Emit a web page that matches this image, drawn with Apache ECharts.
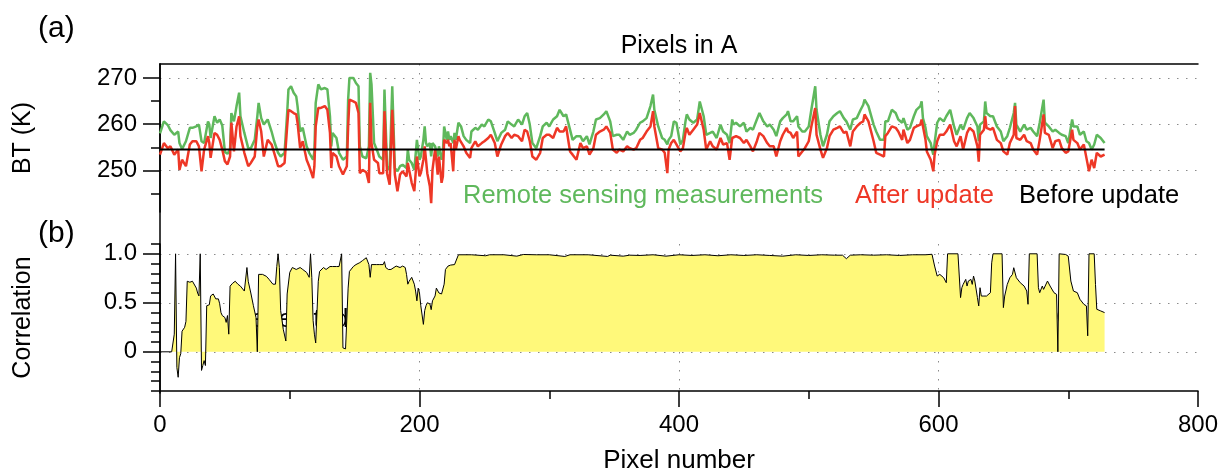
<!DOCTYPE html>
<html>
<head>
<meta charset="utf-8">
<script src="https://cdn.jsdelivr.net/npm/echarts@6/dist/echarts.min.js"></script>
<style>
  html, body { margin: 0; padding: 0; background: #ffffff; }
  #chart { width: 1229px; height: 475px; }
</style>
</head>
<body>
<div id="chart"></div>
<script>
// ---- (a) brightness temperature along the transect, K ----
const pixelA = [0,3,6,8,11,14,15,17,20,23,25,28,30,32,34,37,38,39,42,44,46,48,50,52,54,55,57,59,61,62,65,68,70,73,75,76,78,80,83,86,88,91,93,96,98,99,101,103,105,106,108,110,113,115,118,119,120,122,124,127,129,131,132,133,136,138,141,144,145,146,149,151,153,154,156,159,161,162,163,165,168,169,172,173,175,177,179,181,183,185,187,190,191,192,194,196,198,200,201,203,204,205,206,208,209,210,212,213,214,215,217,218,219,221,222,223,224,226,227,228,230,231,232,234,236,239,240,243,245,248,250,253,255,258,260,263,266,268,271,273,276,279,281,283,285,287,290,293,295,298,300,303,306,308,311,313,316,318,321,324,326,329,331,334,336,339,342,344,347,349,352,354,357,360,362,365,367,370,372,375,378,380,381,384,387,389,391,392,394,396,398,401,403,405,406,408,411,414,416,419,421,424,426,429,432,434,437,439,441,442,444,447,450,452,455,457,460,462,465,468,470,473,475,478,480,483,484,486,488,491,492,495,497,500,502,505,506,509,511,514,516,519,522,524,527,529,532,534,537,540,542,543,546,550,552,555,558,559,561,564,567,569,572,573,576,578,581,583,586,587,588,590,591,594,595,596,597,599,601,604,606,609,612,614,617,619,622,624,627,630,631,632,635,636,637,640,642,645,648,650,653,655,658,659,660,663,666,668,671,673,676,678,681,682,685,688,690,693,695,698,700,703,704,707,709,712,714,716,718,720,722,725,728];

// remote sensing measurements
const measured = [258.0,260.6,259.8,258.7,257.7,258.4,255.9,254.6,256.3,259.2,259.2,259.5,259.9,256.3,255.9,260.6,259.9,257.0,261.7,260.3,261.0,259.7,254.0,253.6,254.5,262.4,260.6,263.9,266.8,261.7,258.1,254.8,254.8,256.6,261.7,264.6,261.3,259.9,261.0,258.4,256.3,253.8,253.0,253.8,262.4,267.5,268.2,266.8,266.0,263.9,258.4,259.2,255.2,253.8,252.3,254.1,264.6,268.6,267.5,267.8,267.5,261.7,255.2,258.1,257.0,253.8,252.3,253.0,265.3,270.0,270.0,268.9,268.2,255.2,253.0,252.6,255.2,271.1,268.6,255.9,253.8,253.0,252.3,267.5,250.9,250.1,268.2,250.5,249.8,250.9,251.2,250.5,254.5,252.3,251.6,250.1,256.6,252.3,253.0,256.6,259.5,255.9,255.2,255.9,253.0,255.9,255.2,255.2,253.0,255.2,252.3,253.8,259.5,256.6,258.4,256.6,257.4,255.9,258.1,256.6,260.3,260.6,259.5,257.4,256.6,255.9,258.4,259.2,258.8,259.9,259.5,261.0,260.6,258.1,256.3,258.1,258.8,260.6,259.9,259.5,261.0,259.9,261.7,262.4,259.9,255.9,254.8,257.4,259.5,260.3,259.5,261.0,261.7,263.1,261.7,262.1,258.8,256.6,257.4,257.4,256.3,257.4,255.6,258.4,261.0,261.3,262.1,262.8,260.6,257.4,257.7,257.7,256.6,258.4,257.7,258.1,258.8,260.3,260.6,261.3,263.9,266.4,263.1,259.5,257.0,256.6,255.6,256.6,257.4,260.6,260.3,255.6,256.6,260.6,262.1,261.0,260.3,261.0,264.9,261.7,257.7,258.1,258.4,257.0,259.9,258.4,257.7,255.9,261.0,259.9,260.3,259.5,260.3,258.4,259.2,258.8,261.0,262.4,260.6,259.5,259.9,258.8,257.4,260.6,261.3,262.1,262.8,260.6,260.6,261.7,259.5,258.4,258.4,259.5,263.1,268.2,263.1,257.7,255.2,257.7,260.6,261.7,262.4,262.8,261.3,260.6,258.8,261.0,261.3,263.1,264.2,265.3,263.9,259.9,258.4,256.6,256.6,260.6,260.6,263.1,262.4,261.0,260.3,261.3,258.8,259.2,261.7,263.1,263.9,264.9,261.3,259.2,257.4,255.9,254.5,253.4,255.9,260.3,261.3,260.6,261.7,263.1,259.5,257.7,259.9,258.8,261.3,262.4,261.3,259.5,256.3,259.9,260.6,264.9,262.4,261.7,261.7,259.5,258.4,256.3,257.4,259.2,262.4,264.6,259.9,258.4,259.9,258.8,259.2,258.4,257.4,260.3,265.3,260.3,259.5,258.4,258.8,258.1,257.7,257.4,255.9,261.0,259.5,259.5,257.7,258.4,256.3,255.9,254.5,255.6,257.7,257.0,255.9];

// after update
const updated = [253.4,255.9,254.8,255.2,253.4,254.5,250.1,252.3,250.9,255.6,256.3,256.3,255.2,249.8,254.5,257.4,255.9,252.7,258.1,257.7,256.6,254.5,252.0,251.3,253.0,260.3,254.1,259.5,261.7,257.4,253.8,250.9,251.6,253.0,259.5,261.0,258.4,253.0,256.6,255.6,253.8,250.9,250.9,251.6,259.5,263.1,262.8,262.4,262.1,260.3,254.8,256.3,252.3,250.9,248.3,250.9,259.5,263.5,263.5,263.9,263.1,258.1,250.5,253.8,253.0,250.9,249.1,250.9,259.5,265.3,264.9,264.6,262.4,249.4,250.1,249.6,247.3,264.6,255.9,252.3,251.6,249.4,249.4,262.8,249.4,246.9,263.1,249.1,245.5,249.1,249.8,248.7,251.6,250.1,247.3,245.5,253.0,248.7,249.4,252.3,255.2,252.3,249.4,246.5,242.9,250.1,254.5,252.3,249.1,253.0,247.3,248.7,256.6,255.9,256.6,255.2,255.9,249.8,256.6,254.5,257.4,256.6,257.0,255.2,253.8,252.7,254.8,256.3,255.2,255.9,256.3,257.0,257.7,255.9,253.0,255.6,257.4,258.1,257.0,257.7,257.4,256.3,258.8,258.4,256.3,253.0,252.3,253.8,257.0,257.7,257.7,257.0,259.2,258.4,258.4,259.5,254.1,253.4,252.3,255.9,254.8,255.2,253.4,254.8,257.7,258.4,258.8,259.5,258.1,254.5,253.8,254.5,254.1,255.2,254.8,254.5,254.8,256.6,257.0,258.4,259.5,262.8,259.5,254.8,254.5,253.8,249.4,254.5,255.9,256.6,255.6,254.1,254.8,258.1,259.2,257.7,258.8,259.9,262.4,258.8,254.5,256.3,255.2,254.5,257.0,255.6,255.9,252.3,257.0,256.6,257.4,257.0,255.9,256.6,255.2,254.1,256.3,258.1,257.4,255.9,255.2,255.2,253.0,256.3,257.7,259.2,258.4,258.1,257.0,258.4,253.0,254.1,254.8,256.3,259.5,263.5,257.7,254.5,252.7,254.8,257.4,258.8,259.2,259.5,258.1,258.4,255.2,258.4,259.5,260.3,260.6,262.1,260.6,256.3,253.8,253.4,253.0,257.4,258.1,259.5,259.2,258.4,256.6,258.8,255.9,256.6,259.2,259.5,259.9,261.0,260.6,256.6,254.1,252.3,251.9,249.8,253.4,256.3,257.7,257.7,258.4,259.9,256.3,255.2,257.4,254.5,258.1,259.2,258.4,255.2,251.9,257.7,258.8,261.7,259.2,258.8,259.2,256.6,255.9,254.1,253.4,255.9,257.7,263.9,257.0,256.6,257.7,256.3,255.9,254.5,253.4,256.6,262.1,258.1,257.7,254.8,256.3,256.6,254.8,253.8,254.1,258.8,256.6,255.9,254.5,255.6,252.7,249.8,252.3,250.5,253.8,253.0,253.4];

// before update (constant first guess)
const beforePixels = [0, 728];
const beforeValues = [254.5, 254.5];

// ---- (b) correlation ----
const pixelB = [0,9,11,12,13,14,15,16,17,19,20,21,23,25,26,28,29,30,31,32,33,34,35,36,38,39,41,42,43,45,46,47,48,50,51,52,53,54,56,58,60,62,65,66,67,68,70,72,74,75,76,77,79,82,84,87,89,90,91,92,93,95,97,98,100,102,105,108,110,113,115,116,117,118,119,120,122,123,126,128,129,131,133,136,138,139,140,141,143,145,146,149,151,154,156,159,160,161,162,163,167,169,172,173,174,176,178,182,185,187,189,190,191,192,194,195,196,197,198,199,200,201,203,204,205,206,208,209,210,212,213,214,215,217,218,219,220,222,224,227,228,230,240,251,254,265,275,280,290,300,312,316,330,345,347,357,362,370,380,390,400,410,420,430,440,450,460,470,480,490,500,510,520,526,529,532,540,550,560,570,580,590,595,596,597,599,601,604,606,607,615,617,618,619,621,622,623,625,626,627,628,630,631,632,633,635,637,640,641,642,649,650,651,653,655,657,658,659,660,663,666,668,669,670,676,677,678,680,681,682,684,686,689,691,692,693,698,700,702,704,705,707,709,712,714,715,716,720,721,722,725,726,728];
const correlation = [0,0,0.18,1.0,-0.16,-0.26,-0.06,-0.02,0.21,0.25,0.31,0.72,0.71,0.72,0.71,0.65,0.60,0.57,1.0,-0.19,-0.14,-0.09,-0.14,0.47,0.48,0.57,0.59,0.57,0.54,0.54,0.49,0.40,0.37,0.35,0.30,0.37,0.18,0.67,0.70,0.72,0.69,0.67,0.62,0.62,0.86,0.72,0.60,0.47,0.35,0.0,0.79,0.77,0.79,0.77,0.74,0.69,0.69,0.87,1.0,0.86,0.42,0.23,0.11,0.59,0.81,0.86,0.84,0.86,0.84,0.81,0.76,1.0,0.76,0.32,0.18,0.09,0.72,0.82,0.86,0.84,0.82,0.87,0.87,0.87,0.87,0.89,1.0,0.04,0.03,0.65,0.82,0.87,0.89,0.91,0.93,0.96,0.94,0.89,0.76,0.89,0.89,0.89,0.89,0.92,0.86,0.84,0.84,0.875,0.86,0.875,0.86,0.79,0.69,0.72,0.76,0.74,0.69,0.62,0.52,0.65,0.60,0.47,0.28,0.42,0.47,0.50,0.49,0.43,0.52,0.57,0.65,0.64,0.60,0.59,0.57,0.69,0.84,0.875,0.885,0.89,0.91,0.99,0.99,0.98,0.99,0.99,0.976,0.993,0.99,0.99,0.973,0.99,0.99,0.973,0.986,0.976,0.986,0.983,0.99,0.976,0.99,0.983,0.99,0.98,0.99,0.983,0.99,0.983,0.976,0.99,0.983,0.99,0.986,0.986,0.95,0.986,0.99,0.986,0.99,0.983,0.99,0.99,0.995,1.0,0.875,0.773,0.79,0.756,0.705,1.0,1.0,0.553,0.654,0.688,0.739,0.671,0.722,0.739,0.688,0.773,0.722,0.553,0.468,0.654,0.569,0.569,0.569,0.603,0.908,1.0,1.0,0.451,0.569,0.688,0.756,0.79,0.858,0.875,0.756,0.705,0.671,0.620,0.485,1.0,1.0,0.654,0.603,0.671,0.637,0.637,0.722,0.671,0.603,0.586,0.0,1.0,0.993,0.976,0.722,0.620,0.603,0.603,0.536,0.485,0.468,0.163,1.0,1.0,0.688,0.434,0.417,0.40,0.40];

// ---- axis ticks ----
const xTickStep = 200;
const btMajor = [250, 260, 270];
const btMinor = [245, 255, 265];
const corrMajor = [0, 0.5, 1.0];
const corrMinor = [-0.4, -0.3, -0.2, -0.1, 0.1, 0.2, 0.3, 0.4, 0.6, 0.7, 0.8, 0.9, 1.1];

const FONT = "'Liberation Sans', Arial, Helvetica, sans-serif";
const GREEN = '#5fb85c';
const RED = '#ee3726';
const YELLOW = '#fff97a';
const dotted = { color: '#8a8a8a', width: 1, type: [1.5, 7.5] };

const pairs = (xs, ys) => xs.map((x, i) => [x, ys[i]]);

const chart = echarts.init(document.getElementById('chart'), null, { renderer: 'canvas' });

const tickLabel = { color: '#000', fontFamily: FONT, fontSize: 24, margin: 23 };
const titleStyle = { color: '#000', fontFamily: FONT, fontSize: 25 };

chart.setOption({
  animation: false,
  backgroundColor: '#ffffff',
  grid: [
    { left: 160, right: 31, top: 64, height: 148 },
    { left: 160, right: 31, top: 244, height: 149 },
    { left: 160, right: 31, top: 64, height: 329 }
  ],
  xAxis: [
    {
      gridIndex: 0, type: 'value', min: 0, max: 800, interval: xTickStep, position: 'top',
      axisLine: { show: true, lineStyle: { color: '#000', width: 1.5 } },
      axisTick: { show: false }, axisLabel: { show: false },
      splitLine: { show: true, showMinLine: false, showMaxLine: false, lineStyle: dotted }
    },
    {
      gridIndex: 1, type: 'value', min: 0, max: 800, interval: xTickStep, position: 'bottom',
      axisLine: { show: true, onZero: false, lineStyle: { color: '#000', width: 1.5 } },
      axisTick: { show: true, length: 16, lineStyle: { color: '#000', width: 1.5 } },
      minorTick: { show: true, splitNumber: 2, length: 8, lineStyle: { color: '#000', width: 1.5 } },
      axisLabel: Object.assign({}, tickLabel, { margin: 22 }),
      splitLine: { show: true, showMinLine: false, showMaxLine: false, lineStyle: dotted },
      name: 'Pixel number', nameLocation: 'middle', nameGap: 57,
      nameTextStyle: Object.assign({}, titleStyle, { fontSize: 26 })
    },
    { gridIndex: 2, type: 'value', min: 0, max: 800, show: false }
  ],
  yAxis: [
    {
      gridIndex: 0, type: 'value', min: 241, max: 273, position: 'left',
      axisLine: { show: true, onZero: false, lineStyle: { color: '#000', width: 1.5 } },
      axisTick: { show: true, customValues: btMajor, length: 17, lineStyle: { color: '#000', width: 1.5 } },
      axisLabel: Object.assign({ customValues: btMajor }, tickLabel),
      splitLine: { show: true, lineStyle: dotted },
      name: 'BT (K)', nameLocation: 'middle', nameGap: 124, nameRotate: 90,
      nameTextStyle: titleStyle
    },
    {
      gridIndex: 0, type: 'value', min: 241, max: 273, position: 'left',
      axisLine: { show: false },
      axisTick: { show: true, customValues: btMinor, length: 9, lineStyle: { color: '#000', width: 1.5 } },
      axisLabel: { show: false }, splitLine: { show: false }
    },
    {
      gridIndex: 1, type: 'value', min: -0.4, max: 1.1, position: 'left',
      axisLine: { show: true, onZero: false, lineStyle: { color: '#000', width: 1.5 } },
      axisTick: { show: true, customValues: corrMajor, length: 17, lineStyle: { color: '#000', width: 1.5 } },
      axisLabel: Object.assign({
        customValues: corrMajor,
        formatter: v => (v === 0 ? '0' : v.toFixed(1))
      }, tickLabel),
      splitLine: { show: true, lineStyle: dotted },
      name: 'Correlation', nameLocation: 'middle', nameGap: 124, nameRotate: 90,
      nameTextStyle: titleStyle
    },
    {
      gridIndex: 1, type: 'value', min: -0.4, max: 1.1, position: 'left',
      axisLine: { show: false },
      axisTick: { show: true, customValues: corrMinor, length: 9, lineStyle: { color: '#000', width: 1.5 } },
      axisLabel: { show: false }, splitLine: { show: false }
    },
    {
      gridIndex: 2, type: 'value', min: 0, max: 1, position: 'right',
      axisLine: { show: true, lineStyle: { color: '#000', width: 1.5 } },
      axisTick: { show: false }, axisLabel: { show: false }, splitLine: { show: false }
    }
  ],
  series: [
    {
      name: 'Remote sensing measurements', type: 'line', xAxisIndex: 0, yAxisIndex: 0,
      data: pairs(pixelA, measured), showSymbol: false, symbol: 'none',
      lineStyle: { color: GREEN, width: 2.5 }, z: 2
    },
    {
      name: 'After update', type: 'line', xAxisIndex: 0, yAxisIndex: 0,
      data: pairs(pixelA, updated), showSymbol: false, symbol: 'none',
      lineStyle: { color: RED, width: 2.5 }, z: 3
    },
    {
      name: 'Before update', type: 'line', xAxisIndex: 0, yAxisIndex: 0,
      data: pairs(beforePixels, beforeValues), showSymbol: false, symbol: 'none',
      lineStyle: { color: '#000', width: 2 }, z: 4
    },
    {
      name: 'Correlation', type: 'line', xAxisIndex: 1, yAxisIndex: 2,
      data: pairs(pixelB, correlation), showSymbol: false, symbol: 'none',
      lineStyle: { color: '#000', width: 1 },
      areaStyle: { color: YELLOW, opacity: 1, origin: 'auto' }, z: 2
    }
  ],
  graphic: [
    { type: 'text', x: 38, y: 29, style: { text: '(a)', fill: '#000', font: '30px ' + FONT, textAlign: 'left', textVerticalAlign: 'middle' } },
    { type: 'text', x: 38, y: 234, style: { text: '(b)', fill: '#000', font: '30px ' + FONT, textAlign: 'left', textVerticalAlign: 'middle' } },
    { type: 'text', x: 679, y: 46, style: { text: 'Pixels in A', fill: '#000', font: '25px ' + FONT, textAlign: 'center', textVerticalAlign: 'middle' } },
    { type: 'text', x: 463, y: 196, style: { text: 'Remote sensing measurements', fill: GREEN, font: '25.5px ' + FONT, textAlign: 'left', textVerticalAlign: 'middle' } },
    { type: 'text', x: 855, y: 196, style: { text: 'After update', fill: RED, font: '25.5px ' + FONT, textAlign: 'left', textVerticalAlign: 'middle' } },
    { type: 'text', x: 1019, y: 196, style: { text: 'Before update', fill: '#000', font: '25.5px ' + FONT, textAlign: 'left', textVerticalAlign: 'middle' } },
    { type: 'text', x: 292, y: 320, style: { text: 'Vegetated', fill: '#000', font: '25px ' + FONT, textAlign: 'center', textVerticalAlign: 'middle' } },
    { type: 'text', x: 684, y: 313, style: { text: 'Bare soil', fill: '#000', font: '25px ' + FONT, textAlign: 'center', textVerticalAlign: 'middle' } },
    { type: 'text', x: 1014, y: 316, style: { text: 'Vegetated', fill: '#000', font: '25px ' + FONT, textAlign: 'center', textVerticalAlign: 'middle' } }
  ]
});
</script>
</body>
</html>
